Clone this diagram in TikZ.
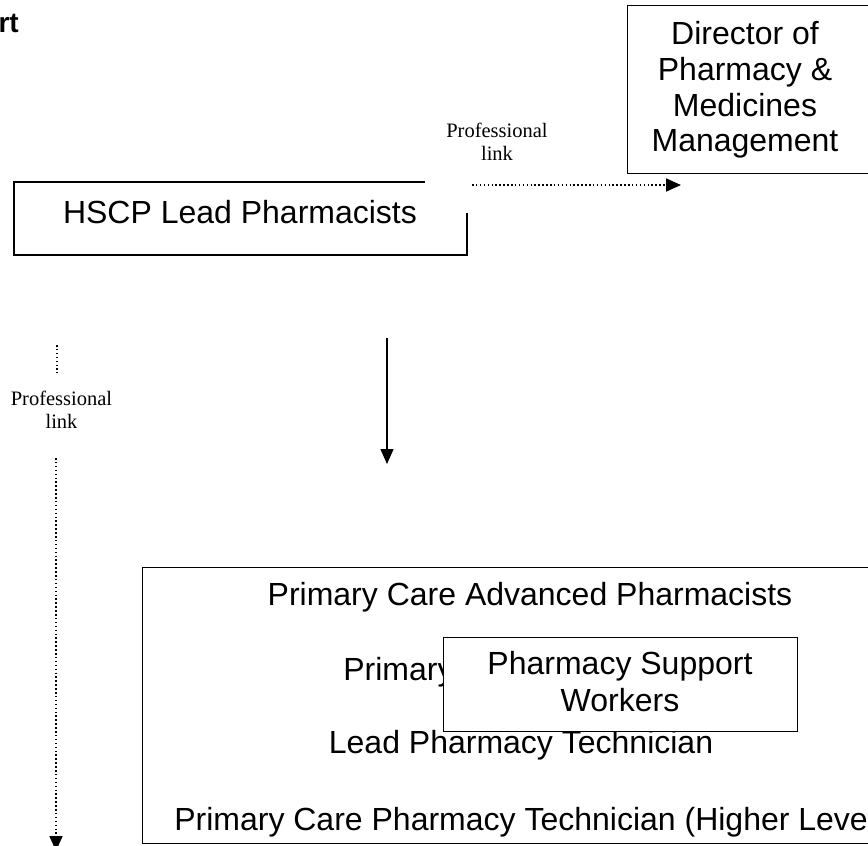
\documentclass[tikz,border=0pt]{standalone}
\usepackage{fontspec}
\setmainfont{Liberation Sans}
\newfontfamily\serifface{Liberation Serif}
\usetikzlibrary{arrows.meta}
\begin{document}
\begin{tikzpicture}[x=1pt,y=-1pt,
  boxline/.style={draw=black,line width=1.4pt},
  bigtext/.style={font=\fontsize{32}{36}\selectfont,inner sep=0pt,align=center},
  linktext/.style={font=\serifface\fontsize{20.5}{23}\selectfont,inner sep=0pt,align=center},
  dotline/.style={line width=1.8pt,dash pattern=on 1.5pt off 2.4pt},
  tipfill/.style={-{Triangle[length=15pt,width=13pt]}},
]
\useasboundingbox (0,0) rectangle (868,846);
\clip (0,0) rectangle (868,846);

% title fragment
\node[font=\bfseries\fontsize{28}{30}\selectfont,inner sep=0pt,anchor=base east] (title) at (19,32) {rt};

% Director box
\node[boxline,anchor=north west,minimum width=250pt,minimum height=168pt,inner sep=0pt] (dir) at (627,5) {};
\node[bigtext,font=\fontsize{32}{35.7}\selectfont] (dirtext) at (745,90) {Director of\\Pharmacy \&\\Medicines\\Management};

% HSCP box (broken outline as in the reference)
\coordinate (hsA) at (425,182);
\coordinate (hsB) at (14,182);
\coordinate (hsC) at (14,255);
\coordinate (hsD) at (467,255);
\coordinate (hsE) at (467,213);
\draw[line width=1.4pt] (hsA) -- (hsB) -- (hsC) -- (hsD) -- (hsE);
\node[bigtext] (hscp) at (240,212) {HSCP Lead Pharmacists};

% professional link (top)
\node[linktext] (plink1) at (497,141.5) {Professional\\link};
\coordinate (pl1s) at (472,185);
\coordinate (pl1e) at (681,185);
\draw[dotline,tipfill] (pl1s) -- (pl1e);

% down arrow
\coordinate (dnS) at (387,338);
\coordinate (dnE) at (387,464);
\draw[line width=1.4pt,tipfill] (dnS) -- (dnE);

% professional link (left)
\coordinate (pl2a) at (57,345);
\coordinate (pl2b) at (57,373);
\draw[dotline] (pl2a) -- (pl2b);
\node[linktext] (plink2) at (61.5,409.5) {Professional\\link};
\coordinate (pl2c) at (56,458);
\coordinate (pl2d) at (56,851);
\draw[dotline,tipfill] (pl2c) -- (pl2d);

% big box
\node[boxline,anchor=north west,minimum width=776pt,minimum height=276pt,inner sep=0pt] (big) at (142,567) {};
\node[bigtext,anchor=base] (t1) at (530,605) {Primary Care Advanced Pharmacists};
\node[bigtext,anchor=base] (t2) at (530,680) {Primary Care Pharmacists};
\node[bigtext,anchor=base] (t3) at (521,753) {Lead Pharmacy Technician};
\node[bigtext,anchor=base] (t4) at (530,830) {Primary Care Pharmacy Technician (Higher Level)};

% support box
\node[boxline,fill=white,anchor=north west,minimum width=354pt,minimum height=94pt,inner sep=0pt] (sup) at (443,637) {};
\node[bigtext,font=\fontsize{32}{37}\selectfont] (suptext) at (620,682) {Pharmacy Support\\Workers};
\end{tikzpicture}
\end{document}
